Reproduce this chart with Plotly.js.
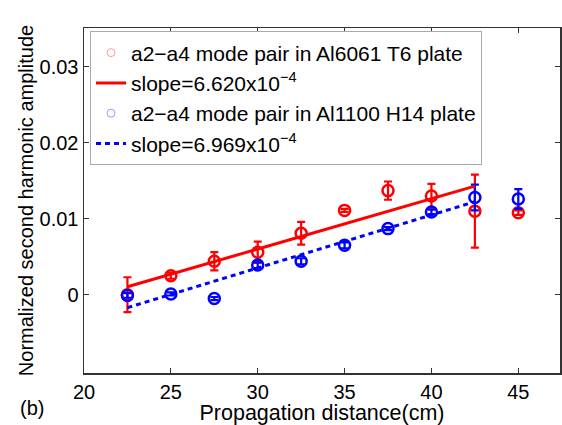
<!DOCTYPE html>
<html>
<head>
<meta charset="utf-8">
<script src="https://cdn.plot.ly/plotly-3.0.1.min.js"></script>
<style>html,body{margin:0;padding:0;background:#fff;}#chart{width:562px;height:425px;}</style>
</head>
<body>
<div id="chart"></div>
<script>
// Propagation distance (cm)
const distance = [22.5, 25, 27.5, 30, 32.5, 35, 37.5, 40, 42.5, 45];
// Al6061 T6 plate: normalized second harmonic amplitude and error
const al6061 = [0.0000, 0.0025, 0.0044, 0.0056, 0.0081, 0.0111, 0.0137, 0.0130, 0.0110, 0.0108];
const al6061Err = [0.0023, 0.0004, 0.0012, 0.0014, 0.0015, 0.0002, 0.0012, 0.0016, 0.0048, 0.0003];
// Al1100 H14 plate
const al1100 = [-0.0001, 0.0001, -0.0005, 0.0039, 0.0044, 0.0065, 0.0087, 0.0109, 0.0128, 0.0126];
const al1100Err = [0.0003, 0.0002, 0.0002, 0.0004, 0.0004, 0.0004, 0.0002, 0.0003, 0.0017, 0.0013];
// Linear fits
const fitX = [22.5, 42.5];
const fitAl6061 = [0.00105, 0.01429];
const fitAl1100 = [-0.0017, 0.01224];
// Tick labels
const xTicks = [20, 25, 30, 35, 40, 45];
const yTicks = [0, 0.01, 0.02, 0.03];
const yTickText = ['0', '0.01', '0.02', '0.03'];
const labels = {
  a6061: 'a2\u2212a4 mode pair in Al6061 T6 plate',
  s6061: 'slope=6.620x10<sup>\u22124</sup>',
  a1100: 'a2\u2212a4 mode pair in Al1100 H14 plate',
  s1100: 'slope=6.969x10<sup>\u22124</sup>'
};

const RED = '#ff0000', BLUE = '#0000ff';
const traces = [
  {x: distance, y: al6061, type: 'scatter', mode: 'markers', showlegend: false,
   marker: {symbol: 'circle-open', size: 11, color: RED, line: {width: 2.5, color: RED}},
   error_y: {type: 'data', array: al6061Err, visible: true, color: RED, thickness: 2.2, width: 4}},
  {x: distance, y: al1100, type: 'scatter', mode: 'markers', showlegend: false,
   marker: {symbol: 'circle-open', size: 11, color: BLUE, line: {width: 2.5, color: BLUE}},
   error_y: {type: 'data', array: al1100Err, visible: true, color: BLUE, thickness: 2.2, width: 4}},
  {x: [null], y: [null], type: 'scatter', mode: 'markers', name: labels.a6061,
   marker: {symbol: 'circle-open', size: 8, color: '#ff9a9a', line: {width: 1}}},
  {x: fitX, y: fitAl6061, type: 'scatter', mode: 'lines', name: labels.s6061,
   line: {color: RED, width: 3}},
  {x: [null], y: [null], type: 'scatter', mode: 'markers', name: labels.a1100,
   marker: {symbol: 'circle-open', size: 8, color: '#9a9aff', line: {width: 1}}},
  {x: fitX, y: fitAl1100, type: 'scatter', mode: 'lines', name: labels.s1100,
   line: {color: BLUE, width: 3, dash: '5px,4px'}}
];

const FONT = 'Liberation Sans, Arial, Helvetica, sans-serif';
const layout = {
  width: 562, height: 425,
  margin: {l: 84, r: 2, t: 28, b: 52},
  paper_bgcolor: '#fff', plot_bgcolor: '#fff',
  font: {family: FONT, color: '#000', size: 20},
  showlegend: true,
  legend: {x: 0.0126, y: 0.99, xanchor: 'left', yanchor: 'top',
    bgcolor: '#fff', bordercolor: '#aaa', borderwidth: 1,
    font: {family: FONT, size: 21, color: '#000'}, traceorder: 'normal',
    tracegroupgap: 0},
  xaxis: {range: [20, 47.4], tickvals: xTicks, ticks: 'inside', ticklen: 5,
    tickcolor: '#333', showline: true, linecolor: '#333', linewidth: 1.5, mirror: 'ticks',
    showgrid: false, zeroline: false, tickfont: {size: 20},
    title: {text: 'Propagation distance(cm)', font: {size: 21.5}, standoff: 4}},
  yaxis: {range: [-0.0103, 0.0351], tickvals: yTicks, ticktext: yTickText, ticks: 'inside', ticklen: 5,
    tickcolor: '#333', showline: true, linecolor: '#333', linewidth: 1.5, mirror: 'ticks',
    showgrid: false, zeroline: false, tickfont: {size: 20},
    title: {text: 'Normalized second harmonic amplitude', font: {size: 20}, standoff: 0}},
  annotations: [{text: '(b)', xref: 'paper', yref: 'paper', x: -0.109, y: -0.1,
    xanchor: 'center', yanchor: 'middle', showarrow: false, font: {size: 20}}]
};
Plotly.newPlot('chart', traces, layout, {displayModeBar: false, staticPlot: true});
</script>
</body>
</html>
